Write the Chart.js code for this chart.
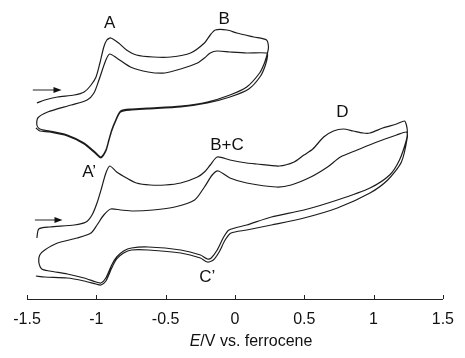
<!DOCTYPE html>
<html>
<head>
<meta charset="utf-8">
<script src="https://cdn.jsdelivr.net/npm/chart.js@4/dist/chart.umd.min.js"></script>
<style>
  html, body { margin: 0; padding: 0; background: #fff; }
  #wrap { width: 465px; height: 358px; }
</style>
</head>
<body>
<div id="wrap"><canvas id="cvChart"></canvas></div>
<script>
// potential (V vs. ferrocene) and current (arbitrary units), two scans each
const upperE = [
  -1.429, -1.372, -1.280, -1.159, -1.088, -1.038, -1.002, -0.974, -0.946, -0.924, -0.896, -0.839, -0.782, -0.711, -0.590,
  -0.462, -0.320, -0.220, -0.178, -0.142, -0.057, 0.014, 0.135, 0.228, 0.242,
  0.235, 0.213, 0.178, 0.085, -0.036, -0.199, -0.391, -0.626, -0.746, -0.825, -0.860, -0.889, -0.910, -0.931, -0.967,
  -1.002, -1.088, -1.209, -1.337, -1.408, -1.429, -1.422,
  -1.351, -1.180, -1.066, -1.017, -0.981, -0.931, -0.903, -0.853, -0.754, -0.626, -0.505, -0.391, -0.270, -0.220,
  -0.178, -0.128, -0.036, 0.085, 0.228,
  0.235, 0.220, 0.185, 0.100, -0.036, -0.199, -0.391, -0.626, -0.746, -0.825, -0.860, -0.889, -0.910, -0.931, -0.967,
  -1.002, -1.088, -1.209, -1.337, -1.408, -1.436
];
const upperI = [
  19.6, 19.9, 20.2, 20.4, 20.7, 21.4, 22.2, 23.6, 25.2, 25.9, 26.1, 25.6, 24.9, 24.4, 24.2,
  24.2, 24.6, 25.6, 26.4, 26.9, 26.9, 26.6, 26.2, 25.9, 25.2,
  24.6, 23.6, 22.6, 21.2, 20.4, 19.7, 19.3, 19.1, 19.0, 18.8, 17.9, 16.9, 15.9, 14.9, 14.2,
  14.6, 15.6, 16.4, 16.8, 17.0, 17.4, 18.1,
  18.7, 19.4, 19.9, 20.6, 21.9, 23.9, 24.5, 24.1, 23.2, 22.7, 22.6, 23.0, 23.6, 24.1,
  24.6, 24.8, 24.7, 24.6, 24.6,
  24.3, 23.4, 22.3, 21.0, 20.2, 19.6, 19.2, 19.0, 18.9, 18.7, 17.8, 16.8, 15.8, 14.8, 14.1,
  14.5, 15.5, 16.3, 16.7, 16.8, 17.1
];
const lowerE = [
  -1.429, -1.415, -1.337, -1.159, -1.074, -1.031, -0.995, -0.960, -0.931, -0.903, -0.853, -0.782, -0.711, -0.611, -0.505,
  -0.391, -0.270, -0.220, -0.178, -0.128, -0.036, 0.085, 0.156, 0.320, 0.427, 0.498, 0.562, 0.640, 0.711, 0.782,
  0.853, 0.924, 0.974, 1.066, 1.166, 1.223, 1.237,
  1.244, 1.237, 1.187, 1.116, 0.974, 0.739, 0.498, 0.263, 0.085, -0.043, -0.085, -0.128, -0.171, -0.199, -0.249,
  -0.391, -0.626, -0.746, -0.803, -0.853, -0.889, -0.931, -0.967, -1.002, -1.088, -1.209, -1.337, -1.393, -1.415, -1.408,
  -1.372, -1.280, -1.137, -1.038, -0.995, -0.946, -0.896, -0.825, -0.732, -0.590, -0.434, -0.291, -0.220, -0.164,
  -0.121, -0.036, 0.085, 0.299, 0.405, 0.547, 0.668, 0.761, 0.882, 1.024, 1.166, 1.237,
  1.244, 1.201, 1.102, 0.974, 0.739, 0.498, 0.263, 0.085, -0.028, -0.071, -0.114, -0.156, -0.199, -0.249,
  -0.391, -0.626, -0.746, -0.803, -0.853, -0.889, -0.931, -0.967, -1.002, -1.088, -1.209, -1.372, -1.436
];
const lowerI = [
  6.1, 7.0, 7.2, 7.4, 7.7, 8.4, 9.6, 11.2, 12.6, 13.3, 12.7, 12.1, 11.6, 11.4, 11.4,
  11.6, 12.2, 12.7, 13.4, 14.2, 13.9, 13.6, 13.5, 13.3, 13.7, 14.4, 15.0, 16.2, 16.8, 17.0,
  16.8, 16.6, 16.6, 17.1, 17.5, 17.8, 17.4,
  16.7, 15.9, 13.9, 12.4, 11.1, 9.9, 8.9, 8.2, 7.4, 6.9, 6.1, 4.9, 4.1, 4.0, 4.4,
  4.9, 5.2, 5.1, 4.8, 4.2, 3.4, 2.1, 1.6, 1.7, 2.1, 2.5, 2.8, 3.0, 3.7, 4.4,
  4.9, 5.6, 6.1, 6.6, 7.4, 8.4, 9.0, 8.9, 8.8, 8.9, 9.2, 9.9, 11.2, 12.4,
  12.8, 12.1, 11.6, 11.2, 11.4, 12.2, 13.2, 14.2, 14.9, 15.7, 16.4, 16.7,
  16.2, 13.7, 11.9, 10.6, 9.1, 8.1, 7.4, 6.9, 6.6, 5.9, 4.7, 3.9, 3.7, 4.1,
  4.6, 4.9, 4.9, 4.6, 4.0, 3.1, 1.8, 1.4, 1.5, 1.8, 2.1, 2.2, 2.3
];
const xTicks = [-1.5, -1, -0.5, 0, 0.5, 1, 1.5];

// peak labels and scan-direction arrows
const peakLabels = [
  { text: 'A', e: -0.903, i: 27.6 },
  { text: 'B', e: -0.078, i: 28.0 },
  { text: 'A\u2019', e: -1.052, i: 12.7 },
  { text: 'B+C', e: -0.057, i: 15.4 },
  { text: 'C\u2019', e: -0.199, i: 2.2 },
  { text: 'D', e: 0.775, i: 18.7 }
];
const scanArrows = [
  { from: -1.458, to: -1.251, i: 20.9 },
  { from: -1.443, to: -1.244, i: 7.9 }
];

const FONT = '"Liberation Sans", Arial, Helvetica, sans-serif';

function toPoints(es, is) {
  return es.map((e, k) => ({ x: e, y: is[k] }));
}

const annotate = {
  id: 'annotate',
  afterDraw(chart) {
    const ctx = chart.ctx;
    const xs = chart.scales.x;
    const ys = chart.scales.y;
    ctx.save();
    // inward tick marks
    ctx.strokeStyle = '#222';
    ctx.lineWidth = 1;
    xs.ticks.forEach(t => {
      const px = Math.round(xs.getPixelForValue(t.value)) + 0.5;
      ctx.beginPath();
      ctx.moveTo(px, xs.top);
      ctx.lineTo(px, xs.top - 4);
      ctx.stroke();
    });
    // peak labels
    ctx.fillStyle = '#111';
    ctx.font = '17px ' + FONT;
    ctx.textAlign = 'center';
    ctx.textBaseline = 'middle';
    peakLabels.forEach(l => {
      ctx.fillText(l.text, xs.getPixelForValue(l.e), ys.getPixelForValue(l.i));
    });
    // arrows
    scanArrows.forEach(a => {
      const x0 = xs.getPixelForValue(a.from);
      const x1 = xs.getPixelForValue(a.to);
      const y = ys.getPixelForValue(a.i);
      ctx.beginPath();
      ctx.moveTo(x0, y);
      ctx.lineTo(x1 - 6, y);
      ctx.stroke();
      ctx.beginPath();
      ctx.moveTo(x1, y);
      ctx.lineTo(x1 - 8, y - 3);
      ctx.lineTo(x1 - 8, y + 3);
      ctx.closePath();
      ctx.fill();
    });
    // axis title with italic E
    const ty = 342;
    ctx.font = 'italic 16px ' + FONT;
    const wE = ctx.measureText('E').width;
    ctx.font = '16px ' + FONT;
    const rest = '/V vs. ferrocene';
    const wR = ctx.measureText(rest).width;
    const start = 251 - (wE + wR) / 2;
    ctx.textAlign = 'left';
    ctx.font = 'italic 16px ' + FONT;
    ctx.fillText('E', start, ty);
    ctx.font = '16px ' + FONT;
    ctx.fillText(rest, start + wE, ty);
    ctx.restore();
  }
};

const lineStyle = {
  showLine: true,
  borderColor: '#1c1c1c',
  borderWidth: 1.2,
  pointRadius: 0,
  tension: 0.25,
  fill: false
};

new Chart(document.getElementById('cvChart'), {
  type: 'scatter',
  data: {
    datasets: [
      Object.assign({ label: 'upper', data: toPoints(upperE, upperI) }, lineStyle),
      Object.assign({ label: 'lower', data: toPoints(lowerE, lowerI) }, lineStyle)
    ]
  },
  options: {
    responsive: true,
    maintainAspectRatio: false,
    animation: false,
    layout: { padding: { left: 27, right: 16, top: 0, bottom: 0 } },
    plugins: { legend: { display: false }, tooltip: { enabled: false } },
    scales: {
      x: {
        type: 'linear',
        min: -1.5,
        max: 1.5,
        afterBuildTicks: axis => { axis.ticks = xTicks.map(v => ({ value: v })); },
        afterFit: axis => { axis.height = 59; },
        grid: { display: true, drawOnChartArea: false, drawTicks: false },
        border: { display: true, color: '#222', width: 1 },
        ticks: {
          color: '#111',
          padding: 11,
          maxRotation: 0,
          font: { family: FONT, size: 16 },
          callback: v => String(v)
        }
      },
      y: {
        display: false,
        min: 0,
        max: 29.9
      }
    }
  },
  plugins: [annotate]
});
</script>
</body>
</html>
